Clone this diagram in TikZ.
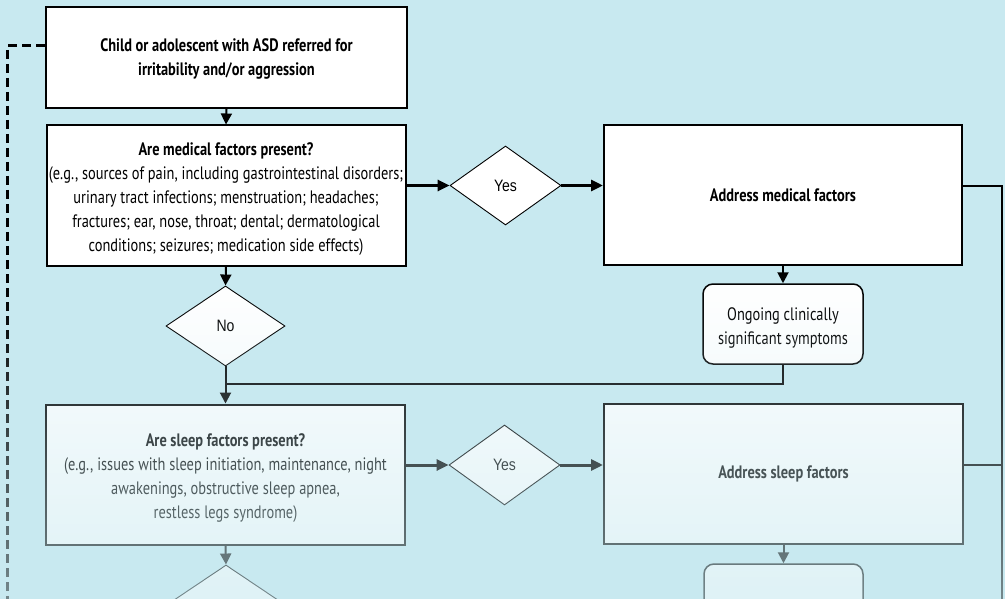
\documentclass[tikz,border=0pt]{standalone}
\usepackage{fontspec}
\setmainfont{PT Sans}[FakeStretch=0.8]
\newfontfamily\arialn{Liberation Sans}[FakeStretch=0.85]
\usetikzlibrary{shapes.geometric,arrows.meta,fadings,calc}
\definecolor{bg}{RGB}{200,233,240}
\pgfdeclareverticalshading{fadeshade}{100bp}{color(0bp)=(white!95!black); color(10bp)=(white!85!black); color(17bp)=(white!68!black); color(41.5bp)=(white!40!black); color(60bp)=(white!18!black); color(66.5bp)=(white!8!black); color(72.5bp)=(white!2!black); color(80bp)=(black); color(100bp)=(black)}
\pgfdeclarefading{bottomfade}{\pgfuseshading{fadeshade}}
\tikzset{
  box/.style={draw=black, line width=2pt, fill=white, inner sep=2pt, align=center,
    font=\fontsize{18}{24}\selectfont},
  rbox/.style={box, rounded corners=10pt, line width=1.5pt},
  dia/.style={diamond, draw=black, line width=0.9pt, fill=white, inner sep=0pt,
    font=\arialn\fontsize{16.5}{16.5}\selectfont},
  harrow/.style={line width=3pt, -{Triangle[length=12pt,width=11pt]}},
  varrow/.style={line width=2pt, -{Triangle[length=11pt,width=11pt]}},
  conn/.style={line width=2pt},
  thinconn/.style={line width=1.8pt},
  dashconn/.style={line width=3pt, dash pattern=on 9pt off 5pt},
}
\begin{document}
\begin{tikzpicture}[x=1pt,y=-1pt]
\useasboundingbox (0,0) rectangle (1005,599);
\clip (0,0) rectangle (1005,599);
\fill[bg] (0,0) rectangle (1005,599);

% nodes
\node[box, minimum width=361pt, minimum height=101pt] (b1) at (226.5,57.5)
  {\rule{0pt}{16pt}\textbf{Child or adolescent with ASD referred for}\\\textbf{irritability and/or aggression}};
\node[box, minimum width=359pt, minimum height=140pt] (b2) at (226,195.5)
  {\rule{0pt}{19pt}\textbf{Are medical factors present?}\\(e.g., sources of pain, including gastrointestinal disorders;\\urinary tract infections; menstruation; headaches;\\fractures; ear, nose, throat; dental; dermatological\\conditions; seizures; medication side effects)};
\node[dia, minimum width=111pt, minimum height=79pt] (y1) at (505.5,185.5) {Yes};
\node[box, minimum width=358pt, minimum height=140pt] (b3) at (783,195) {\textbf{Address medical factors}};
\node[rbox, minimum width=160pt, minimum height=80pt] (og1) at (783,324)
  {\rule{0pt}{20pt}Ongoing clinically\\significant symptoms};
\node[dia, minimum width=119pt, minimum height=80pt] (n1) at (225.5,326) {No};

\node[box, minimum width=359pt, minimum height=140pt] (s1) at (225.5,474.5)
  {\rule{0pt}{19pt}\textbf{Are sleep factors present?}\\(e.g., issues with sleep initiation, maintenance, night\\awakenings, obstructive sleep apnea,\\restless legs syndrome)};
\node[dia, minimum width=111pt, minimum height=80pt] (y2) at (504.5,465) {Yes};
\node[box, minimum width=359pt, minimum height=140pt] (b4) at (783.5,474) {\textbf{Address sleep factors}};
\node[dia, minimum width=119pt, minimum height=80pt] (n2) at (226,605) {};
\node[rbox, minimum width=159pt, minimum height=80pt] (og2) at (783.5,604) {};

% coordinates
\coordinate (rtop) at (1002,186);
\coordinate (rbot) at (1002,610);
\coordinate (join) at (226,384);
\coordinate (dtop) at (7,46);
\coordinate (dbot) at (7,610);

% connectors
\draw[varrow] (b1.south) -- (b2.north);
\draw[harrow] (y1.west -| b2.east) -- (y1.west);
\draw[harrow] (y1.east) -- (y1.east -| b3.west);
\draw[thinconn] (rtop -| b3.east) -- (rtop) -- (rbot);
\draw[varrow] (b3.south) -- (og1.north);
\draw[varrow] (b2.south) -- (n1.north);
\draw[conn] (og1.south) |- (join);
\draw[varrow] (n1.south) -- (s1.north);
\draw[dashconn] (dtop -| b1.west) -- (dtop) -- (dbot);

\draw[harrow] (y2.west -| s1.east) -- (y2.west);
\draw[harrow] (y2.east) -- (y2.east -| b4.west);
\draw[thinconn] (y2.east -| b4.east) -- (y2.east -| rtop);
\draw[varrow] (s1.south) -- (n2.north);
\draw[varrow] (b4.south) -- (og2.north);

% fade toward the bottom
\fill[bg, path fading=bottomfade, fit fading=true] (-1,275) rectangle (1006,600);
\end{tikzpicture}
\end{document}
